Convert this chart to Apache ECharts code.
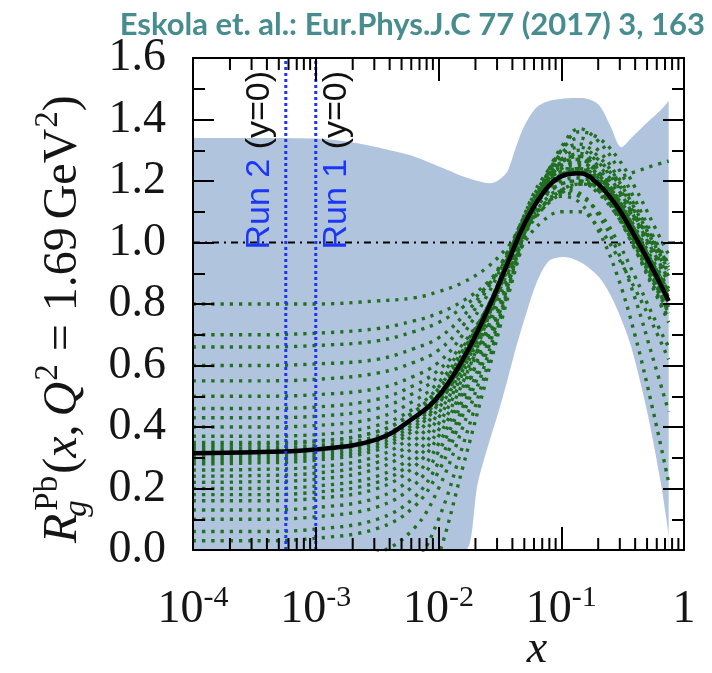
<!DOCTYPE html>
<html>
<head>
<meta charset="utf-8">
<script src="https://cdn.jsdelivr.net/npm/echarts@6/dist/echarts.min.js"></script>
<style>
  html, body { margin: 0; padding: 0; background: #ffffff; }
  #chart { width: 712px; height: 673px; }
</style>
</head>
<body>
<div id="chart"></div>
<script>
// ---- data -------------------------------------------------------------
// Sampling points in x for the central fit and the error sets
const xGrid = [0.0001, 0.000316, 0.001, 0.00316, 0.0063, 0.01, 0.0158, 0.0251, 0.0355,
               0.0501, 0.0708, 0.1, 0.141, 0.2, 0.282, 0.398, 0.562, 0.75];

// Central EPPS16 gluon modification R_g^Pb at Q^2 = 1.69 GeV^2
const central = [0.315, 0.318, 0.327, 0.36, 0.43, 0.50, 0.62, 0.78, 0.92,
                 1.06, 1.16, 1.215, 1.225, 1.19, 1.12, 1.02, 0.91, 0.81];

// Individual error sets
const errorSets = [
  [0.80, 0.80, 0.80, 0.81, 0.82, 0.84, 0.87, 0.92, 0.98, 1.05, 1.12, 1.17, 1.19, 1.18, 1.14, 1.08, 1.00, 0.93],
  [0.70, 0.70, 0.705, 0.72, 0.745, 0.77, 0.81, 0.87, 0.95, 1.04, 1.11, 1.16, 1.19, 1.20, 1.21, 1.23, 1.25, 1.265],
  [0.66, 0.66, 0.665, 0.68, 0.71, 0.74, 0.79, 0.86, 0.94, 1.03, 1.11, 1.17, 1.19, 1.17, 1.11, 1.02, 0.92, 0.84],
  [0.60, 0.60, 0.605, 0.62, 0.655, 0.69, 0.76, 0.86, 0.96, 1.08, 1.15, 1.19, 1.20, 1.17, 1.10, 1.00, 0.89, 0.80],
  [0.55, 0.55, 0.555, 0.575, 0.61, 0.65, 0.73, 0.85, 0.96, 1.08, 1.16, 1.20, 1.21, 1.18, 1.11, 1.01, 0.90, 0.81],
  [0.50, 0.50, 0.505, 0.525, 0.565, 0.61, 0.70, 0.83, 0.95, 1.07, 1.16, 1.21, 1.23, 1.20, 1.13, 1.03, 0.92, 0.83],
  [0.46, 0.46, 0.465, 0.49, 0.535, 0.585, 0.67, 0.79, 0.92, 1.05, 1.15, 1.22, 1.24, 1.21, 1.14, 1.04, 0.93, 0.84],
  [0.43, 0.43, 0.435, 0.46, 0.51, 0.565, 0.66, 0.79, 0.92, 1.06, 1.17, 1.24, 1.26, 1.22, 1.14, 1.03, 0.91, 0.81],
  [0.40, 0.40, 0.405, 0.43, 0.485, 0.545, 0.65, 0.79, 0.93, 1.07, 1.18, 1.25, 1.27, 1.23, 1.15, 1.04, 0.92, 0.82],
  [0.37, 0.37, 0.375, 0.405, 0.46, 0.53, 0.64, 0.79, 0.93, 1.07, 1.17, 1.23, 1.24, 1.20, 1.12, 1.01, 0.89, 0.78],
  [0.35, 0.35, 0.355, 0.385, 0.445, 0.515, 0.63, 0.78, 0.92, 1.06, 1.16, 1.22, 1.23, 1.19, 1.11, 1.00, 0.88, 0.77],
  [0.33, 0.332, 0.34, 0.37, 0.43, 0.505, 0.625, 0.78, 0.92, 1.05, 1.14, 1.19, 1.20, 1.16, 1.09, 0.99, 0.88, 0.79],
  [0.30, 0.303, 0.312, 0.345, 0.41, 0.49, 0.615, 0.78, 0.93, 1.07, 1.18, 1.24, 1.25, 1.21, 1.14, 1.04, 0.93, 0.84],
  [0.28, 0.283, 0.292, 0.325, 0.39, 0.475, 0.605, 0.775, 0.93, 1.07, 1.17, 1.22, 1.22, 1.17, 1.09, 0.98, 0.86, 0.75],
  [0.26, 0.262, 0.27, 0.305, 0.375, 0.46, 0.595, 0.77, 0.93, 1.08, 1.19, 1.26, 1.28, 1.24, 1.17, 1.07, 0.96, 0.87],
  [0.24, 0.242, 0.25, 0.285, 0.355, 0.445, 0.585, 0.765, 0.93, 1.08, 1.19, 1.25, 1.26, 1.22, 1.15, 1.05, 0.94, 0.85],
  [0.22, 0.222, 0.23, 0.265, 0.335, 0.43, 0.575, 0.76, 0.93, 1.08, 1.18, 1.23, 1.23, 1.18, 1.10, 0.99, 0.87, 0.77],
  [0.20, 0.20, 0.208, 0.24, 0.31, 0.41, 0.56, 0.72, 0.88, 1.05, 1.18, 1.26, 1.29, 1.25, 1.18, 1.08, 0.97, 0.88],
  [0.18, 0.18, 0.188, 0.22, 0.29, 0.39, 0.545, 0.75, 0.93, 1.09, 1.20, 1.26, 1.27, 1.22, 1.14, 1.03, 0.91, 0.81],
  [0.16, 0.16, 0.168, 0.20, 0.27, 0.37, 0.53, 0.74, 0.92, 1.08, 1.19, 1.24, 1.24, 1.19, 1.10, 0.98, 0.85, 0.74],
  [0.13, 0.13, 0.138, 0.17, 0.24, 0.345, 0.51, 0.69, 0.86, 1.04, 1.18, 1.27, 1.30, 1.26, 1.19, 1.09, 0.98, 0.89],
  [0.10, 0.10, 0.108, 0.14, 0.21, 0.32, 0.49, 0.72, 0.92, 1.09, 1.21, 1.27, 1.28, 1.23, 1.15, 1.04, 0.92, 0.82],
  [0.06, 0.06, 0.068, 0.10, 0.17, 0.285, 0.465, 0.67, 0.85, 1.04, 1.19, 1.28, 1.31, 1.27, 1.20, 1.10, 0.99, 0.90],
  [0.03, 0.03, 0.038, 0.07, 0.14, 0.255, 0.44, 0.65, 0.84, 1.03, 1.19, 1.29, 1.32, 1.28, 1.21, 1.11, 1.00, 0.91],
  [-0.05, -0.05, -0.04, -0.01, 0.07, 0.20, 0.40, 0.63, 0.83, 1.03, 1.19, 1.30, 1.34, 1.30, 1.22, 1.12, 1.01, 0.92],
  [-0.20, -0.20, -0.19, -0.15, -0.05, 0.10, 0.34, 0.60, 0.82, 1.02, 1.19, 1.31, 1.37, 1.33, 1.25, 1.14, 1.02, 0.93],
  [-0.40, -0.40, -0.39, -0.34, -0.22, -0.02, 0.27, 0.57, 0.80, 1.01, 1.18, 1.30, 1.36, 1.34, 1.28, 1.18, 1.06, 0.96],
  [0.31, 0.313, 0.322, 0.355, 0.42, 0.495, 0.61, 0.76, 0.89, 1.00, 1.07, 1.10, 1.10, 1.05, 0.96, 0.85, 0.73, 0.62],
  [0.32, 0.323, 0.332, 0.365, 0.43, 0.505, 0.62, 0.775, 0.91, 1.04, 1.12, 1.15, 1.13, 1.04, 0.90, 0.70, 0.45, 0.22],
  [0.34, 0.343, 0.352, 0.385, 0.45, 0.525, 0.64, 0.79, 0.92, 1.04, 1.13, 1.17, 1.16, 1.09, 0.98, 0.82, 0.62, 0.45],
  [0.29, 0.293, 0.302, 0.335, 0.40, 0.48, 0.60, 0.76, 0.90, 1.03, 1.12, 1.16, 1.15, 1.10, 1.01, 0.89, 0.76, 0.66]
];

// Uncertainty band (upper / lower edge)
const bandX = [0.0001, 0.000316, 0.001, 0.002, 0.00355, 0.0063, 0.0112, 0.0166, 0.0209,
               0.0263, 0.0302, 0.0363, 0.0427, 0.0501, 0.0631, 0.0794, 0.105, 0.145,
               0.2, 0.251, 0.309, 0.372, 0.501, 0.646, 0.75];
const bandUpper = [1.34, 1.34, 1.338, 1.325, 1.305, 1.28, 1.24, 1.212, 1.2, 1.193, 1.2, 1.23,
                   1.31, 1.38, 1.44, 1.46, 1.468, 1.47, 1.45, 1.38, 1.31, 1.34, 1.39, 1.43, 1.46];
const bandLower = [0, 0, 0, 0, 0, 0, 0, 0, 0.218, 0.36, 0.437, 0.55, 0.657, 0.75, 0.87, 0.94,
                   0.953, 0.935, 0.89, 0.83, 0.75, 0.66, 0.45, 0.22, 0.05];

// LHC kinematic reach at y = 0
const runX = [0.00057, 0.001];
const runNames = ['Run 2', 'Run 1'];
const runTag = '(y=0)';

// Reference level R = 1
const unity = 1.0;

// Minor tick positions on the logarithmic x axis
const xMinorTicks = [
  2e-4, 3e-4, 4e-4, 5e-4, 6e-4, 7e-4, 8e-4, 9e-4,
  2e-3, 3e-3, 4e-3, 5e-3, 6e-3, 7e-3, 8e-3, 9e-3,
  2e-2, 3e-2, 4e-2, 5e-2, 6e-2, 7e-2, 8e-2, 9e-2,
  0.2, 0.3, 0.4, 0.5, 0.6, 0.7, 0.8, 0.9
];

const xRange = [1e-4, 1];
const yRange = [0, 1.6];
const yStep = 0.2;

// ---- styling ----------------------------------------------------------
const SERIF = '"Liberation Serif", "Times New Roman", serif';
const SANS = '"Liberation Sans", Arial, sans-serif';
const BAND = '#b0c4de';
const GREEN = '#207020';
const BLUE = '#1c36f5';
const INK = '#151515';

const chart = echarts.init(document.getElementById('chart'), null, { renderer: 'canvas' });

function logLabel(v) {
  const e = Math.round(Math.log10(v));
  return e === 0 ? '{b|1}' : '{b|10}{s|' + e + '}';
}

const axisCommon = {
  z: 10,
  axisLine: { show: true, onZero: false, lineStyle: { color: '#000', width: 2 } },
  splitLine: { show: false },
  minorSplitLine: { show: false }
};

function xAxisDef(position, showLabel) {
  return Object.assign({}, axisCommon, {
    type: 'log', logBase: 10, min: xRange[0], max: xRange[1], position,
    axisTick: { show: true, inside: true, length: 23, lineStyle: { color: '#000', width: 2 } },
    minorTick: { show: false },
    axisLabel: {
      show: showLabel, margin: 33, formatter: logLabel,
      rich: {
        b: { fontFamily: SERIF, fontSize: 46, color: INK, lineHeight: 50, verticalAlign: 'bottom' },
        s: { fontFamily: SERIF, fontSize: 30, color: INK, lineHeight: 16, verticalAlign: 'top' }
      }
    }
  });
}

function yAxisDef(position, showLabel) {
  return Object.assign({}, axisCommon, {
    type: 'value', min: yRange[0], max: yRange[1], interval: yStep, position,
    axisTick: { show: true, inside: true, length: 21, lineStyle: { color: '#000', width: 2 } },
    minorTick: { show: true, splitNumber: 2, length: 12, lineStyle: { color: '#000', width: 2 } },
    axisLabel: {
      show: showLabel, margin: 27, formatter: v => v.toFixed(1),
      fontFamily: SERIF, fontSize: 46, color: INK
    }
  });
}

// y-axis title  R_g^Pb(x, Q^2 = 1.69 GeV^2), laid out piece by piece and rotated
function yTitle() {
  const ctx = document.createElement('canvas').getContext('2d');
  const big = 48, small = 33;
  const font = (size, italic) => (italic ? 'italic ' : '') + size + 'px ' + SERIF;
  const width = (t, f) => { ctx.font = f; return ctx.measureText(t).width; };
  const parts = [];
  let pos = 0;
  function put(t, size, italic, raise, dx) {
    const f = font(size, italic);
    parts.push({
      type: 'text', x: pos + (dx || 0), y: -raise - 0.305 * size,
      style: { text: t, font: f, fill: INK, align: 'left', verticalAlign: 'middle' }
    });
    return width(t, f);
  }
  pos += put('R', big, true, 0);
  const wSup = put('Pb', small, false, 20, 3);
  const wSub = put('g', small, true, -9, -3);
  pos += Math.max(wSup + 3, wSub - 3) + 2;
  pos += put('(', big, false, 0);
  pos += put('x', big, true, 0);
  pos += put(',', big, false, 0) + 8;
  pos += put('Q', big, true, 0) + 1;
  pos += put('2', small, false, 20);
  pos += 13;
  pos += put('=', big, false, 0) + 13;
  pos += put('1.69', big, false, 0) + 8;
  pos += put('GeV', big, false, 0) + 1;
  pos += put('2', small, false, 20);
  pos += put(')', big, false, 0);
  return { type: 'group', x: 78, y: 543, rotation: Math.PI / 2, silent: true, children: parts };
}

const series = [];

// uncertainty band: filled upper edge, lower edge cut back out
series.push({
  type: 'line', name: 'band-upper', silent: true, z: 1, smooth: 0.3, showSymbol: false,
  data: bandX.map((x, i) => [x, bandUpper[i]]),
  lineStyle: { width: 0 }, areaStyle: { color: BAND, opacity: 1, origin: 'start' }
});
series.push({
  type: 'line', name: 'band-lower', silent: true, z: 1, smooth: 0.3, showSymbol: false,
  data: bandX.map((x, i) => [x, bandLower[i]]),
  lineStyle: { width: 0 }, areaStyle: { color: '#ffffff', opacity: 1, origin: 'start' }
});

// R = 1 reference
series.push({
  type: 'line', silent: true, z: 2, showSymbol: false,
  data: [[xRange[0], unity], [xRange[1], unity]],
  lineStyle: { color: '#000', width: 2, type: [7, 5, 2, 5] }
});

// error sets
errorSets.forEach(set => {
  series.push({
    type: 'line', silent: true, z: 3, smooth: 0.4, showSymbol: false,
    data: xGrid.map((x, i) => [x, set[i]]),
    lineStyle: { color: GREEN, width: 3.4, type: [3.2, 6], cap: 'butt' }
  });
});

// central fit
series.push({
  type: 'line', silent: true, z: 4, smooth: 0.4, showSymbol: false,
  data: xGrid.map((x, i) => [x, central[i]]),
  lineStyle: { color: '#000', width: 4.5 }
});

// kinematic reach lines with rotated captions
series.push({
  type: 'custom', silent: true, z: 5,
  data: runX.map((x, i) => [x, i]),
  renderItem(params, api) {
    const i = params.dataIndex;
    const x = api.value(0);
    const b = api.coord([x, yRange[0]]);
    const t = api.coord([x, yRange[1]]);
    const a = api.coord([x, unity]);
    const onLeft = i === 0;
    return {
      type: 'group',
      children: [
        { type: 'line', shape: { x1: b[0], y1: b[1], x2: t[0], y2: t[1] },
          style: { stroke: BLUE, lineWidth: 3, lineDash: [3, 3] } },
        { type: 'text', x: b[0] + (onLeft ? -9.5 : 4), y: a[1] + 7, rotation: Math.PI / 2,
          style: {
            text: '{r|' + runNames[i] + '} {k|' + runTag + '}',
            align: 'left', verticalAlign: onLeft ? 'bottom' : 'top',
            font: '34px ' + SANS,
            rich: {
              r: { fill: BLUE, fontSize: 34, fontFamily: SANS },
              k: { fill: '#111', fontSize: 34, fontFamily: SANS }
            }
          } }
      ]
    };
  }
});

// minor ticks on the bottom and top x axes
series.push({
  type: 'custom', silent: true, z: 11,
  data: xMinorTicks.map(x => [x, 0]),
  renderItem(params, api) {
    const x = api.value(0);
    const b = api.coord([x, yRange[0]]);
    const t = api.coord([x, yRange[1]]);
    return {
      type: 'group',
      children: [
        { type: 'line', shape: { x1: b[0], y1: b[1], x2: b[0], y2: b[1] - 12 }, style: { stroke: '#000', lineWidth: 2 } },
        { type: 'line', shape: { x1: t[0], y1: t[1], x2: t[0], y2: t[1] + 12 }, style: { stroke: '#000', lineWidth: 2 } }
      ]
    };
  }
});

chart.setOption({
  animation: false,
  backgroundColor: '#ffffff',
  grid: { left: 193, right: 28, top: 58, bottom: 123, containLabel: false, outerBoundsMode: 'none' },
  xAxis: [xAxisDef('bottom', true), xAxisDef('top', false)],
  yAxis: [yAxisDef('left', true), yAxisDef('right', false)],
  graphic: [
    { type: 'text', right: 7, top: 9, silent: true,
      style: { text: 'Eskola et. al.: Eur.Phys.J.C 77 (2017) 3, 163', font: 'bold 31px Lato, "Open Sans", sans-serif', fill: '#478c8e' } },
    { type: 'text', x: 576, y: 510, silent: true,
      style: { text: 'EPPS16', font: '37px ' + SERIF, fill: INK, align: 'center', verticalAlign: 'middle' } },
    { type: 'text', x: 537, y: 650, silent: true,
      style: { text: 'x', font: 'italic 46px ' + SERIF, fill: INK, align: 'center', verticalAlign: 'middle' } },
    yTitle()
  ],
  series
});
</script>
</body>
</html>
